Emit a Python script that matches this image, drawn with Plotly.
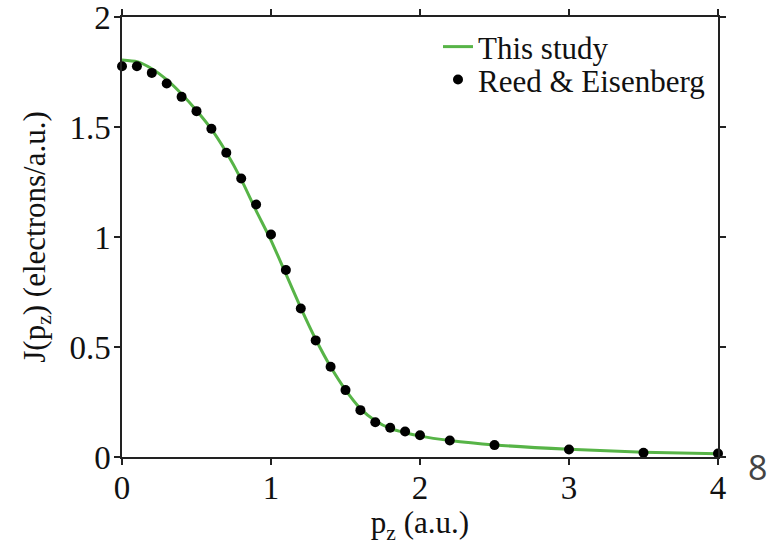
import plotly.graph_objects as go

# Reed & Eisenberg reference data
re_x = [0.0, 0.1, 0.2, 0.3, 0.4, 0.5, 0.6, 0.7, 0.8, 0.9, 1.0, 1.1, 1.2, 1.3, 1.4,
        1.5, 1.6, 1.7, 1.8, 1.9, 2.0, 2.2, 2.5, 3.0, 3.5, 4.0]
re_y = [1.776, 1.776, 1.746, 1.698, 1.637, 1.572, 1.492, 1.383, 1.266, 1.148, 1.011,
        0.850, 0.675, 0.530, 0.410, 0.304, 0.213, 0.158, 0.133, 0.116, 0.099, 0.075,
        0.054, 0.034, 0.019, 0.016]

# This study (curve)
st_x = [0.0, 0.1, 0.2, 0.3, 0.4, 0.5, 0.6, 0.7, 0.8, 0.9, 1.0, 1.1, 1.2, 1.3, 1.4,
        1.5, 1.6, 1.7, 1.8, 1.9, 2.0, 2.2, 2.5, 3.0, 3.5, 4.0]
st_y = [1.805, 1.797, 1.765, 1.715, 1.650, 1.575, 1.490, 1.385, 1.262, 1.120, 0.985,
        0.832, 0.678, 0.535, 0.410, 0.305, 0.220, 0.165, 0.130, 0.110, 0.095, 0.075,
        0.055, 0.035, 0.022, 0.015]

x_ticks = [0, 1, 2, 3, 4]
x_labels = ["0", "1", "2", "3", "4"]
y_ticks = [0, 0.5, 1, 1.5, 2]
y_labels = ["0", "0.5", "1", "1.5", "2"]

SERIF = "Liberation Serif"

# body margin is removed below, so figure pixels == window pixels
PL, PR, PT, PB = 122, 718, 17, 457.5
W, H = 781, 545

def px_x(p):
    return (p - PL) / (PR - PL)

def px_y(p):
    return (PB - p) / (PB - PT)

fig = go.Figure()
fig.add_trace(go.Scatter(
    x=st_x, y=st_y, mode="lines", name="This study",
    line=dict(color="#57b447", width=3, shape="spline", smoothing=0.6),
    cliponaxis=False, legend="legend",
))
fig.add_trace(go.Scatter(
    x=re_x, y=re_y, mode="markers", name="Reed & Eisenberg",
    marker=dict(color="black", size=10),
    cliponaxis=False, legend="legend2",
))

axis_common = dict(
    showline=True, linecolor="#222", linewidth=1.5, mirror="ticks",
    ticks="outside", ticklen=6, tickwidth=1.5, tickcolor="#222",
    showgrid=False, zeroline=False, automargin=False,
    ticklabeloverflow="allow",
    tickfont=dict(family=SERIF, size=33, color="#111"),
)

fig.update_layout(
    width=W, height=H,
    margin=dict(l=PL, r=W - PR, t=PT, b=H - PB, autoexpand=False),
    plot_bgcolor="white", paper_bgcolor="white",
    font=dict(family=SERIF, size=30, color="#111"),
    xaxis=dict(range=[0, 4], tickvals=x_ticks, ticktext=x_labels, ticklabelstandoff=-5,
               title=dict(text="p<sub>z</sub> (a.u.)", font=dict(family=SERIF, size=31), standoff=0),
               **axis_common),
    yaxis=dict(range=[0, 2], tickvals=y_ticks, ticktext=y_labels, ticklabelstandoff=-3,
               title=dict(text="J(p<sub>z</sub>) (electrons/a.u.)", font=dict(family=SERIF, size=31)),
               **axis_common),
    legend=dict(x=px_x(438), y=px_y(47), xanchor="left", yanchor="middle",
                bgcolor="rgba(0,0,0,0)", font=dict(family=SERIF, size=31), itemwidth=30),
    legend2=dict(x=px_x(438), y=px_y(80), xanchor="left", yanchor="middle",
                 bgcolor="rgba(0,0,0,0)", font=dict(family=SERIF, size=31), itemwidth=30),
    showlegend=True,
)

fig.add_annotation(
    text="8", xref="paper", yref="paper",
    x=px_x(757), y=px_y(468),
    xanchor="center", yanchor="middle", showarrow=False,
    font=dict(family="Open Sans", size=34, color="#444"),
)

fig.write_html("out.html", config={"displayModeBar": False},
               post_script="document.body.style.margin='0';")
